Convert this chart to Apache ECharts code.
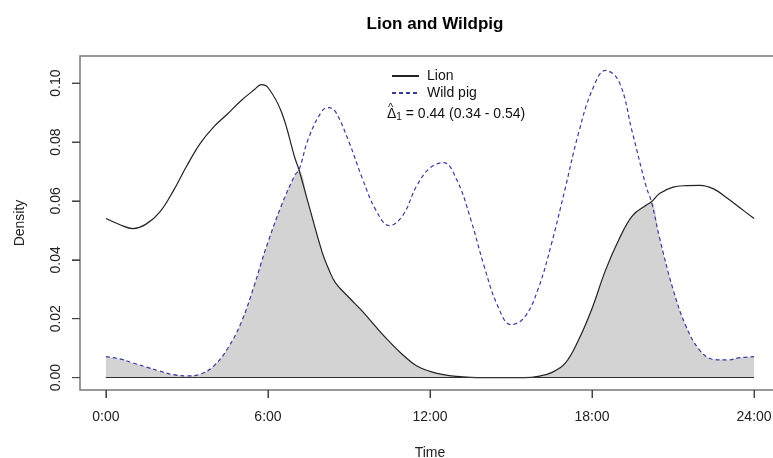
<!DOCTYPE html>
<html>
<head>
<meta charset="utf-8">
<script src="https://cdn.jsdelivr.net/npm/echarts@6/dist/echarts.min.js"></script>
<style>
html,body{margin:0;padding:0;background:#fff;}
#c{width:773px;height:458px;}
</style>
</head>
<body>
<div id="c"></div>
<script>
// Hours of day (common grid for both curves)
var hours = [0,0.5,1,1.5,2,2.5,3,3.5,4,4.5,5,5.5,5.75,6,6.5,7,7.15,7.5,8,8.25,8.5,9,9.5,10,10.5,11,11.5,12,12.5,13,13.5,14,14.5,15,15.5,16,16.5,17,17.5,18,18.5,19,19.5,20,20.2,20.5,21,21.5,22,22.5,23,23.5,24];
// Lion kernel density
var lion = [0.0540,0.0520,0.0506,0.0522,0.0563,0.0635,0.0720,0.0796,0.0852,0.0895,0.0940,0.0978,0.0995,0.0985,0.0902,0.0745,0.0705,0.0590,0.0428,0.0368,0.0322,0.0272,0.0225,0.0172,0.0122,0.0077,0.0040,0.0021,0.0010,0.0004,0.0001,0,0,0,0,0.0004,0.0017,0.0048,0.0128,0.0235,0.0365,0.0470,0.0550,0.0585,0.0597,0.0625,0.0647,0.0652,0.0653,0.0641,0.0610,0.0575,0.0540];
// Wild pig kernel density
var wildpig = [0.0071,0.0064,0.0050,0.0036,0.0022,0.0010,0.0006,0.0012,0.0040,0.0098,0.0185,0.0315,0.0390,0.0460,0.0585,0.0688,0.0705,0.0812,0.0905,0.0917,0.0903,0.0800,0.0675,0.0568,0.0516,0.0552,0.0650,0.0712,0.0730,0.0670,0.0540,0.0380,0.0245,0.0180,0.0205,0.0300,0.0455,0.0640,0.0830,0.0975,0.1043,0.1005,0.0830,0.0650,0.0597,0.0475,0.0300,0.0170,0.0092,0.0062,0.0060,0.0068,0.0071];
var xTicks = [0,6,12,18,24];
var yTicks = [0,0.02,0.04,0.06,0.08,0.10];
var titleText = 'Lion and Wildpig';
var seriesNames = ['Lion','Wild pig'];
var overlapText = '0.44 (0.34 - 0.54)';

var X_MIN = -0.96, X_MAX = 24.96, Y_MIN = -0.0042, Y_MAX = 0.1092;

var lionData = hours.map(function(h,i){return [h, lion[i]];});
var pigData = hours.map(function(h,i){return [h, wildpig[i]];});
var overlapData = hours.map(function(h,i){return [h, Math.min(lion[i], wildpig[i])];});

var FONT = '"Liberation Sans", Arial, sans-serif';
var baseGraphic = [
  {type:'text', id:'hat', left:388, top:102, silent:true,
   style:{text:'^', fontFamily:FONT, fontSize:11, fill:'#111'}},
  {type:'text', id:'delta', left:387, top:107, silent:true,
   style:{text:'{d|Δ}{s|1}{n| = ' + overlapText + '}', fill:'#111',
     rich:{
       d:{fontFamily:FONT, fontSize:14, fill:'#111'},
       s:{fontFamily:FONT, fontSize:10, fill:'#111', padding:[7,0,0,0]},
       n:{fontFamily:FONT, fontSize:14, fill:'#111'}
     }}}
];

var chart = echarts.init(document.getElementById('c'), null, {renderer:'canvas'});
chart.setOption({
  animation:false,
  backgroundColor:'#fff',
  textStyle:{fontFamily:FONT},
  title:{
    text:titleText, left:430, top:11, textAlign:'center',
    textStyle:{fontFamily:FONT, fontSize:17, fontWeight:'bold', color:'#000'}
  },
  grid:{left:80, top:56, width:700, height:334, show:true, borderColor:'#777', borderWidth:1.5,
    backgroundColor:'transparent', containLabel:false, outerBoundsMode:'none'},
  xAxis:{
    type:'value', min:X_MIN, max:X_MAX,
    name:'Time', nameLocation:'middle', nameGap:56,
    nameTextStyle:{fontFamily:FONT, fontSize:14, color:'#222'},
    axisLine:{show:false, onZero:false},
    splitLine:{show:false},
    axisTick:{show:true, customValues:xTicks, length:8, inside:false, lineStyle:{color:'#444', width:1}},
    axisLabel:{customValues:xTicks, margin:20, fontFamily:FONT, fontSize:14, color:'#222',
      formatter:function(v){return Math.round(v)+':00';}}
  },
  yAxis:{
    type:'value', min:Y_MIN, max:Y_MAX,
    name:'Density', nameLocation:'middle', nameGap:53, nameRotate:90,
    nameTextStyle:{fontFamily:FONT, fontSize:14, color:'#222'},
    axisLine:{show:false, onZero:false},
    splitLine:{show:false},
    axisTick:{show:true, customValues:yTicks, length:8, inside:false, lineStyle:{color:'#444', width:1}},
    axisLabel:{customValues:yTicks, margin:17, rotate:90, fontFamily:FONT, fontSize:14, color:'#222',
      formatter:function(v){return v.toFixed(2);}}
  },
  legend:{
    data:seriesNames, orient:'vertical', left:386, top:64,
    itemWidth:27, itemHeight:14, itemGap:3,
    itemStyle:{opacity:0},
    textStyle:{fontFamily:FONT, fontSize:14, color:'#111', padding:[0,0,0,3]}
  },
  graphic:baseGraphic,
  series:[
    {
      name:'overlap', type:'line', data:overlapData, smooth:0.4, symbol:'none',
      lineStyle:{width:0, opacity:0}, areaStyle:{color:'#d3d3d3', opacity:1, origin:0},
      z:1, silent:true,
      markLine:{silent:true, symbol:'none', label:{show:false},
        lineStyle:{color:'#333', type:'solid', width:1.2},
        data:[[{coord:[xTicks[0],0]},{coord:[xTicks[xTicks.length-1],0]}]]}
    },
    {
      name:'Lion', type:'line', data:lionData, smooth:0.4, symbol:'none',
      itemStyle:{color:'#222'},
      lineStyle:{color:'#222', width:1.2, type:'solid'}, z:3
    },
    {
      name:'Wild pig', type:'line', data:pigData, smooth:0.4, symbol:'none',
      itemStyle:{color:'#3a3a9c'},
      lineStyle:{color:'#3a3a9c', width:1.2, type:[4,3]}, z:4
    }
  ]
});

// Tick marks at the box edges, positioned through the chart's own scales
(function addTicks(){
  var els = baseGraphic.slice();
  var finder = {xAxisIndex:0, yAxisIndex:0};
  xTicks.forEach(function(t, i){
    var p = chart.convertToPixel(finder, [t, Y_MIN]);
    if (!p) return;
    els.push({type:'line', id:'xt'+i, silent:true, z:10,
      shape:{x1:p[0], y1:p[1], x2:p[0], y2:p[1]+8},
      style:{stroke:'#444', lineWidth:1}});
  });
  yTicks.forEach(function(t, i){
    var p = chart.convertToPixel(finder, [X_MIN, t]);
    if (!p) return;
    els.push({type:'line', id:'yt'+i, silent:true, z:10,
      shape:{x1:p[0]-8, y1:p[1], x2:p[0], y2:p[1]},
      style:{stroke:'#444', lineWidth:1}});
  });
  chart.setOption({graphic:els});
})();
</script>
</body>
</html>
